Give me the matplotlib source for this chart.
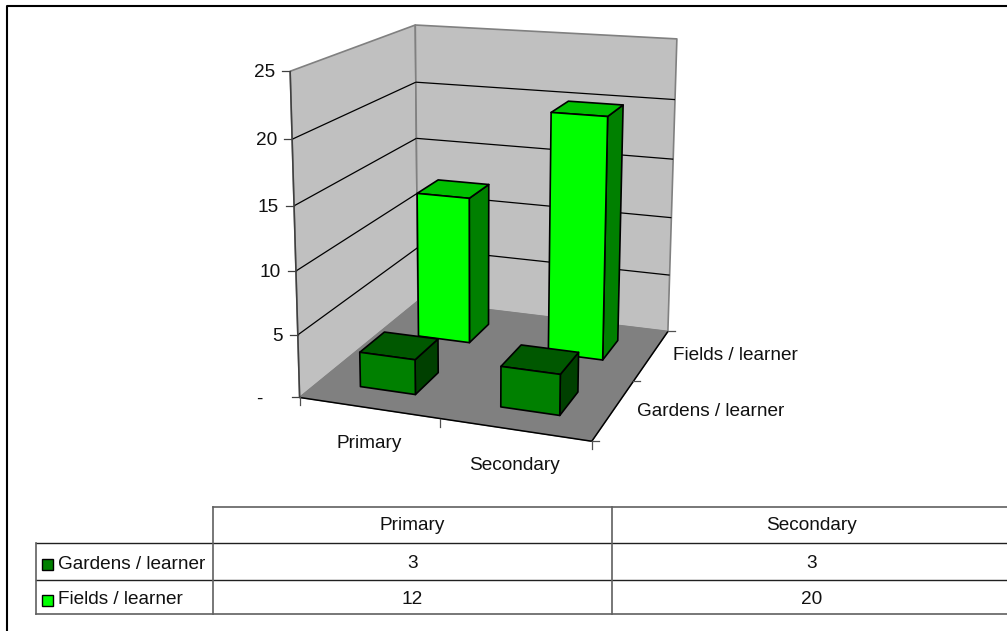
"""
Excel style 3D column chart with data table, drawn on a pixel-sized axes
through a small camera projection.
"""

import numpy as np
import matplotlib
matplotlib.use("Agg")
import matplotlib.pyplot as plt
from matplotlib.patches import Polygon, Rectangle

plt.rcParams['font.family'] = ['Liberation Sans', 'DejaVu Sans']

categories = ["Primary", "Secondary"]
series_names = ["Gardens / learner", "Fields / learner"]
gardens = [2.8, 3.2]
fields = [12.4, 20]
table_gardens = [3, 3]
table_fields = [12, 20]
value_ticks = [0, 5, 10, 15, 20, 25]
value_labels = ["-", "5", "10", "15", "20", "25"]

FONT = 13.7

# known spots of the plot box: (category, series, value) -> image pixel
calib_world = np.array([
    (0, 0, 0), (2, 0, 0), (2, 2, 0), (0, 2, 0), (0, 0, 25), (0, 2, 25), (2, 2, 25),
    (0, 0, 15), (0, 2, 15), (2, 2, 15), (2, 2, 5),
    (0.7, 0.3, 0), (1.7, 0.3, 0), (1.7, 1.3, 0), (0.7, 1.3, 0),
    (0.7, 0.7, 0), (1.7, 0.7, 0), (1.7, 1.7, 0), (0.7, 1.7, 0),
    (0.3, 0.3, 0), (1.3, 0.3, 0),
], dtype=float)
calib_px = np.array([
    (300, 395.7), (592, 442.7), (668.7, 330.3), (417.5, 304), (290, 71.3), (415, 25), (677.3, 39.3),
    (294, 205.7), (417, 137.3), (672.7, 159.7), (669.3, 275),
    (416.7, 395), (559.3, 415.7), (601.7, 359.3), (469.3, 341.7),
    (438.3, 372.7), (578.3, 391.7), (618.3, 340), (488.3, 324),
    (360, 386.7), (500, 407.7),
], dtype=float)


def fit_camera(world, px):
    # plain DLT fit of a 3x4 projection matrix
    rows = []
    for (x, y, z), (u, v) in zip(world, px):
        rows.append([x, y, z, 1, 0, 0, 0, 0, -u * x, -u * y, -u * z, -u])
        rows.append([0, 0, 0, 0, x, y, z, 1, -v * x, -v * y, -v * z, -v])
    return np.linalg.svd(np.array(rows))[2][-1].reshape(3, 4)


camera = fit_camera(calib_world, calib_px)


def project(x, y, z):
    u, v, w = camera @ np.array([x, y, z, 1.0])
    return u / w, v / w


def face(ax, points, color, edge='black', lw=1.2, zorder=3):
    ax.add_patch(Polygon([project(*p) for p in points], closed=True, facecolor=color,
                         edgecolor=edge, linewidth=lw, joinstyle='round', zorder=zorder))


def line3(ax, a, b, color='black', lw=0.9, zorder=2):
    pa, pb = project(*a), project(*b)
    ax.plot([pa[0], pb[0]], [pa[1], pb[1]], color=color, linewidth=lw, zorder=zorder,
            solid_capstyle='butt')


def bar3(ax, cat, ser, value, front, top, side):
    x0, x1 = cat + 0.3, cat + 0.7
    y0, y1 = ser + 0.3, ser + 0.7
    face(ax, [(x1, y0, 0), (x1, y1, 0), (x1, y1, value), (x1, y0, value)], side)
    face(ax, [(x0, y0, value), (x1, y0, value), (x1, y1, value), (x0, y1, value)], top)
    face(ax, [(x0, y0, 0), (x1, y0, 0), (x1, y0, value), (x0, y0, value)], front)


fig = plt.figure(figsize=(10.07, 6.31), dpi=100)
ax = fig.add_axes([0, 0, 1, 1])
ax.set_xlim(0, 1007)
ax.set_ylim(631, 0)
ax.axis('off')

# chart area border, runs off the right and bottom of the image
ax.plot([6.5, 6.5, 1007], [631, 5.5, 5.5], color='black', linewidth=1.5, zorder=1)

# walls and floor
top = value_ticks[-1]
wall_grey = '#C0C0C0'
face(ax, [(0, 0, 0), (0, 2, 0), (0, 2, top), (0, 0, top)], wall_grey, edge='#808080', lw=1.2, zorder=1)
face(ax, [(0, 2, 0), (2, 2, 0), (2, 2, top), (0, 2, top)], wall_grey, edge='#808080', lw=1.2, zorder=1)
face(ax, [(0, 0, 0), (2, 0, 0), (2, 2, 0), (0, 2, 0)], '#808080', edge='#808080', lw=0.8, zorder=1)

for v in value_ticks[1:-1]:
    line3(ax, (0, 0, v), (0, 2, v))
    line3(ax, (0, 2, v), (2, 2, v))

# axis lines
line3(ax, (0, 0, 0), (0, 0, top), color='#404040', lw=1.1)
line3(ax, (0, 0, 0), (2, 0, 0), lw=1.1)
line3(ax, (2, 0, 0), (2, 2, 0), lw=1.1)

# value axis ticks and labels
for v, lab in zip(value_ticks, value_labels):
    px, py = project(0, 0, v)
    ax.plot([px - 8, px], [py, py], color='#404040', linewidth=0.9, zorder=2)
    tx = px - 37 if lab == "-" else px - 15
    ax.text(tx, py + 1.5, lab, ha='right', va='center', fontsize=FONT, color='#111111')

# category ticks
for c in range(len(categories) + 1):
    px, py = project(c, 0, 0)
    ax.plot([px, px], [py, py + 8], color='#505050', linewidth=0.9, zorder=2)
ax.text(369, 444, categories[0], ha='center', va='center', fontsize=FONT, color='#111111')
ax.text(514, 465, categories[1], ha='center', va='center', fontsize=FONT, color='#111111')

# series ticks
for s in range(len(series_names) + 1):
    px, py = project(2, s, 0)
    ax.plot([px, px + 7], [py, py], color='#505050', linewidth=0.9, zorder=2)
ax.text(637, 412, series_names[0], ha='left', va='center', fontsize=FONT, color='#111111')
ax.text(673, 356, series_names[1], ha='left', va='center', fontsize=FONT, color='#111111')

# bars, back row first
for c, v in enumerate(fields):
    bar3(ax, c, 1, v, '#00FF00', '#00C000', '#008000')
for c, v in enumerate(gardens):
    bar3(ax, c, 0, v, '#008000', '#005800', '#004000')

# data table, its last column runs past the image edge
x_left, x_head, x_mid, x_right = 36, 212.5, 612.3, 1011
y_top, y_a, y_b, y_bot = 506.5, 543.3, 580.3, 614
grey = '#606060'
ax.plot([x_head, x_right], [y_top, y_top], color=grey, linewidth=1.2)
ax.plot([x_left, x_right], [y_a, y_a], color='#202020', linewidth=1.0)
ax.plot([x_left, x_right], [y_b, y_b], color='#202020', linewidth=1.0)
ax.plot([x_left, x_right], [y_bot, y_bot], color=grey, linewidth=1.2)
ax.plot([x_left, x_left], [y_a, y_bot], color=grey, linewidth=1.2)
ax.plot([x_head, x_head], [y_top, y_bot], color=grey, linewidth=1.2)
ax.plot([x_mid, x_mid], [y_top, y_bot], color=grey, linewidth=1.2)

col_centers = [(x_head + x_mid) / 2, (x_mid + x_right) / 2]
row_centers = [(y_a + y_b) / 2, (y_b + y_bot) / 2]
for cx, name in zip(col_centers, categories):
    ax.text(cx, (y_top + y_a) / 2 + 1, name, ha='center', va='center', fontsize=FONT, color='#111111')
swatches = ['#008000', '#00FF00']
for cy, name, vals, col in zip(row_centers, series_names, [table_gardens, table_fields], swatches):
    ax.add_patch(Rectangle((41.5, cy - 2.5), 11, 11, facecolor=col, edgecolor='black', linewidth=1.0))
    ax.text(58, cy + 2.5, name, ha='left', va='center', fontsize=FONT, color='#111111')
    for cx, v in zip(col_centers, vals):
        ax.text(cx, cy + 2, f"{v}", ha='center', va='center', fontsize=FONT, color='#111111')

fig.savefig("out.png", dpi=100)
